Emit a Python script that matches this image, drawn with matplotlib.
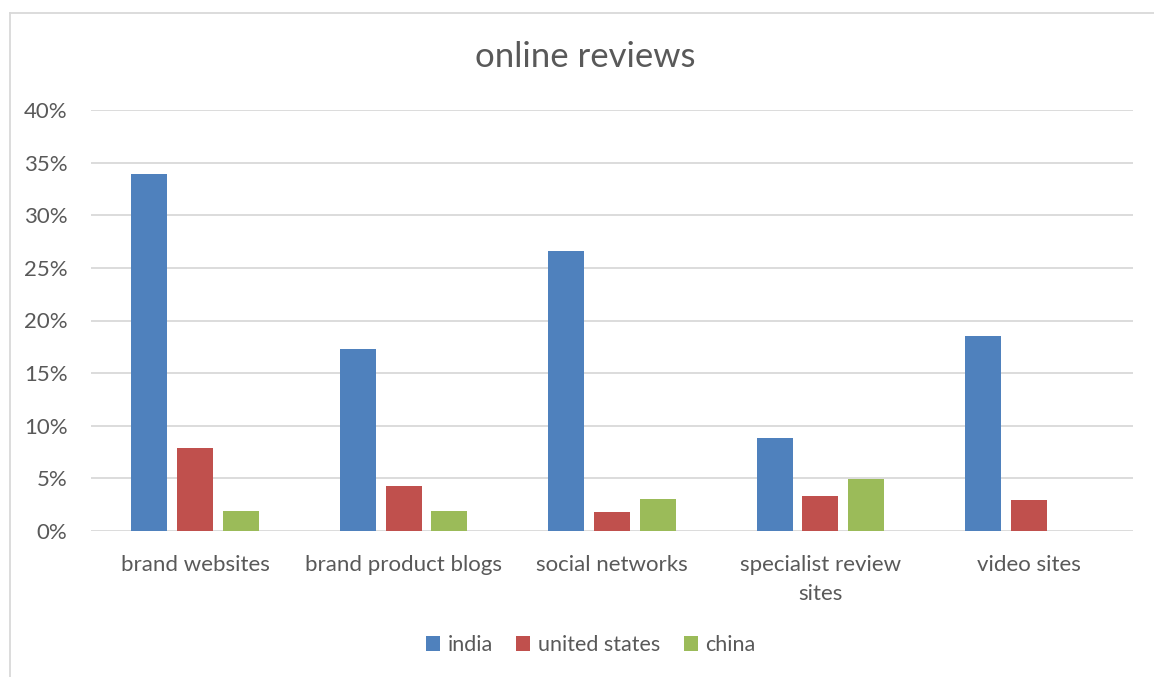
import matplotlib.pyplot as plt
import numpy as np
from matplotlib.lines import Line2D
from matplotlib.ticker import PercentFormatter

categories = ["brand websites", "brand product blogs", "social networks",
              "specialist review\nsites", "video sites"]
india = [33.9, 17.3, 26.6, 8.8, 18.5]
united_states = [7.9, 4.3, 1.8, 3.3, 2.9]
china = [1.9, 1.9, 3.0, 4.9, 0.0]

series = [("india", india, "#4F81BD"),
          ("united states", united_states, "#C0504D"),
          ("china", china, "#9BBB59")]

plt.rcParams["font.family"] = ["Lato", "DejaVu Sans"]
text_col = "#595959"

fig = plt.figure(figsize=(11.54, 6.77), dpi=100)
ax = fig.add_axes([91 / 1154, 1 - 531 / 677, 1042 / 1154, 421 / 677])

# grauer Rahmen (oben und links sichtbar)
W, H = 1154, 677
fig.add_artist(Line2D([9.5 / W, 1.0], [1 - 12.5 / H] * 2, transform=fig.transFigure,
                      color="#D9D9D9", linewidth=1.3))
fig.add_artist(Line2D([9.5 / W] * 2, [0.0, 1 - 12.5 / H], transform=fig.transFigure,
                      color="#D9D9D9", linewidth=1.3))

x = np.arange(len(categories))
w = 0.173
for i, (name, vals, col) in enumerate(series):
    ax.bar(x + (i - 1) * 0.22, np.array(vals) / 100, width=w, color=col,
           label=name, zorder=3)

ax.set_xlim(-0.5, len(categories) - 0.5)
ax.set_ylim(0, 0.40)
ax.set_yticks(np.arange(0, 0.41, 0.05))
ax.yaxis.set_major_formatter(PercentFormatter(1.0, decimals=0))
ax.set_xticks(x)
ax.set_xticklabels(categories, fontsize=16, color=text_col, linespacing=1.6)
ax.tick_params(axis="y", labelsize=16, colors=text_col, length=0, pad=17)
ax.tick_params(axis="x", length=0, pad=17)
ax.grid(axis="y", color="#D9D9D9", linewidth=1.3, zorder=0)
for s in ax.spines.values():
    s.set_visible(False)

fig.text(0.507, 1 - 57 / H, "online reviews", ha="center", va="center",
         fontsize=25, color=text_col)

fig.legend(loc="center", bbox_to_anchor=(0.512, 1 - 645 / H), ncol=3, frameon=False,
           fontsize=15.5, labelcolor=text_col, handlelength=0.65, handleheight=0.65,
           handletextpad=0.35, columnspacing=1.1)

plt.savefig("out.png", dpi=100)
